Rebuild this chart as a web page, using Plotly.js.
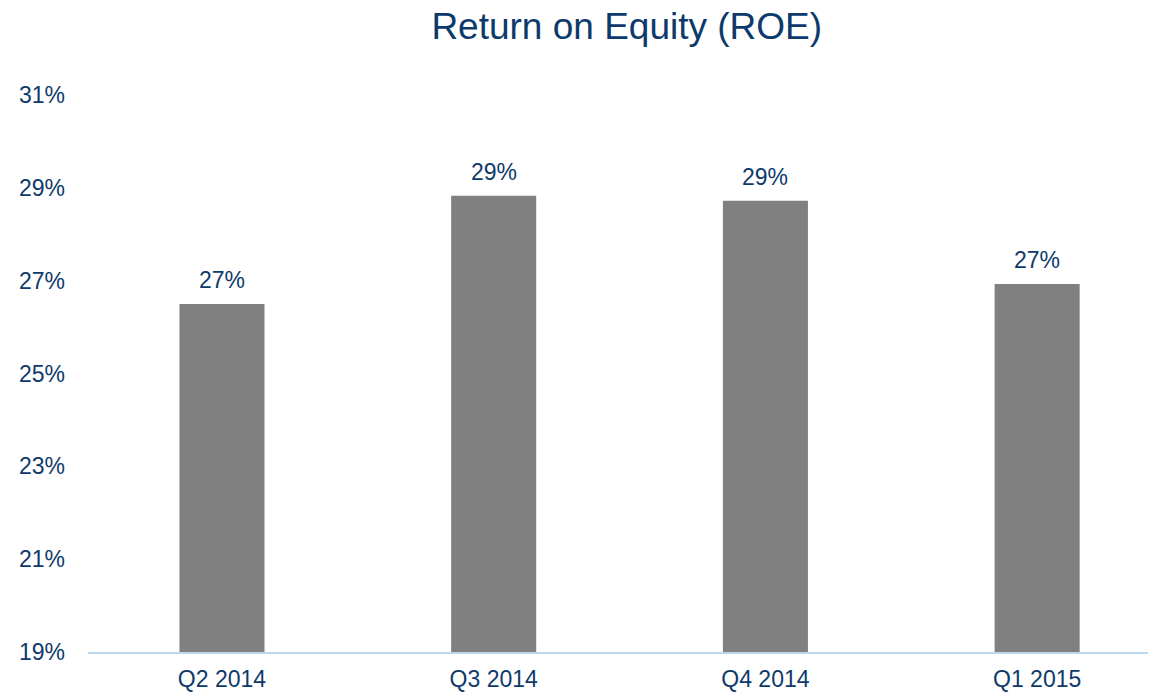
<!DOCTYPE html>
<html>
<head>
<meta charset="utf-8">
<script src="https://cdn.plot.ly/plotly-3.0.1.min.js"></script>
<style>html,body{margin:0;padding:0;background:#fff;}#chart{width:1150px;height:692px;}</style>
</head>
<body>
<div id="chart"></div>
<script>
var categories = ["Q2 2014", "Q3 2014", "Q4 2014", "Q1 2015"];
var roeValues = [26.5, 28.83, 28.72, 26.93];
var yTickVals = [19, 21, 23, 25, 27, 29, 31];
var yTickText = ["19%", "21%", "23%", "25%", "27%", "29%", "31%"];

var textColor = "#0E3A6B";
var fontFam = "Liberation Sans, Arial, sans-serif";

var trace = {
  type: "bar",
  x: categories,
  y: roeValues,
  marker: {color: "#808080"},
  width: 0.313,
  hoverinfo: "skip"
};

var annotations = categories.map(function(c, i){
  return {
    x: c, y: roeValues[i], xref: "x", yref: "y",
    text: Math.round(roeValues[i]) + "%",
    showarrow: false,
    xanchor: "center", yanchor: "bottom",
    yshift: 9,
    font: {family: fontFam, size: 23, color: textColor}
  };
});

var layout = {
  width: 1150,
  height: 692,
  margin: {l: 88, r: 2, t: 95, b: 40},
  paper_bgcolor: "#ffffff",
  plot_bgcolor: "#ffffff",
  showlegend: false,
  font: {family: fontFam, color: textColor},
  title: {
    text: "Return on Equity (ROE)",
    font: {family: fontFam, size: 37, color: textColor},
    x: 0.545, xanchor: "center", xref: "container",
    y: 0.963, yanchor: "middle", yref: "container"
  },
  xaxis: {
    type: "category",
    range: [-0.493, 3.408],
    showgrid: false,
    zeroline: false,
    showline: true,
    linecolor: "#BDD7EE",
    linewidth: 2,
    ticks: "",
    tickfont: {size: 23, color: textColor},
    ticklabelstandoff: 5
  },
  yaxis: {
    range: [19, 31],
    tickvals: yTickVals,
    ticktext: yTickText,
    showgrid: false,
    zeroline: false,
    showline: false,
    ticks: "",
    tickfont: {size: 23, color: textColor},
    ticklabelstandoff: 22
  },
  annotations: annotations
};

Plotly.newPlot("chart", [trace], layout, {displayModeBar: false, staticPlot: true});
</script>
</body>
</html>
